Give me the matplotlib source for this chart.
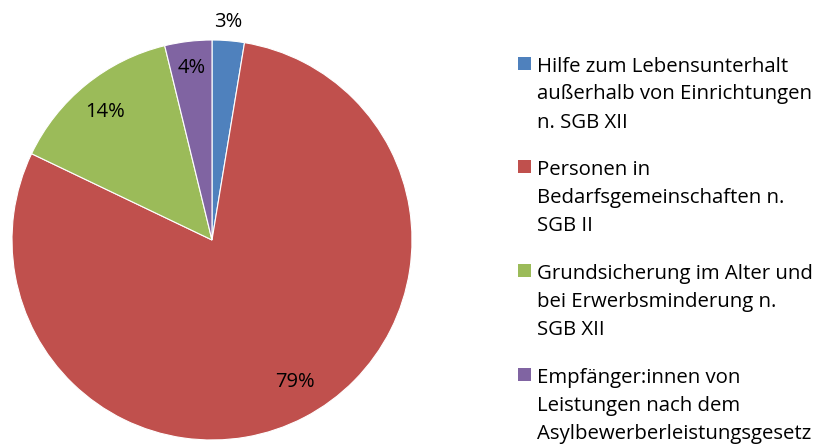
import matplotlib
matplotlib.use("Agg")
import matplotlib.pyplot as plt
from matplotlib.patches import Rectangle

labels = [
    "Hilfe zum Lebensunterhalt\naußerhalb von Einrichtungen\nn. SGB XII",
    "Personen in\nBedarfsgemeinschaften n.\nSGB II",
    "Grundsicherung im Alter und\nbei Erwerbsminderung n.\nSGB XII",
    "Empfänger:innen von\nLeistungen nach dem\nAsylbewerberleistungsgesetz",
]
values = [2.6, 79.5, 14.1, 3.8]
colors = ["#4F81BD", "#C0504D", "#9BBB59", "#8064A2"]
pct_labels = ["3%", "79%", "14%", "4%"]
label_pos = [(0.08, 1.09), (0.415, -0.71), (-0.535, 0.64), (-0.10, 0.86)]

plt.rcParams['font.family'] = ['Open Sans', 'DejaVu Sans']

fig = plt.figure(figsize=(8.22, 4.44), dpi=100)
W, H = 822, 444
cx, cy, r = 212, 240, 200
ax = fig.add_axes([(cx - r) / W, (H - cy - r) / H, 2 * r / W, 2 * r / H])
wedges, _ = ax.pie(values, colors=colors, startangle=90, counterclock=False,
                   wedgeprops=dict(edgecolor="white", linewidth=0.8))
ax.set_xlim(-1, 1)
ax.set_ylim(-1, 1)
ax.set_aspect("equal")
for txt, (x, y) in zip(pct_labels, label_pos):
    ax.text(x, y, txt, ha="center", va="center", fontsize=14.5, color="#000000")

# legend
item_top = [64, 167, 271, 375]
line_h = 28
for lab, col, y0 in zip(labels, colors, item_top):
    fig.patches.append(Rectangle((518 / W, 1 - (y0 + 6) / H), 13 / W, 13 / H,
                                 transform=fig.transFigure, facecolor=col,
                                 edgecolor="none"))
    for i, line in enumerate(lab.split("\n")):
        fig.text(537 / W, 1 - (y0 + i * line_h) / H, line, ha="left",
                 va="center_baseline", fontsize=14.7, color="#000000")

fig.savefig("out.png", dpi=100)
